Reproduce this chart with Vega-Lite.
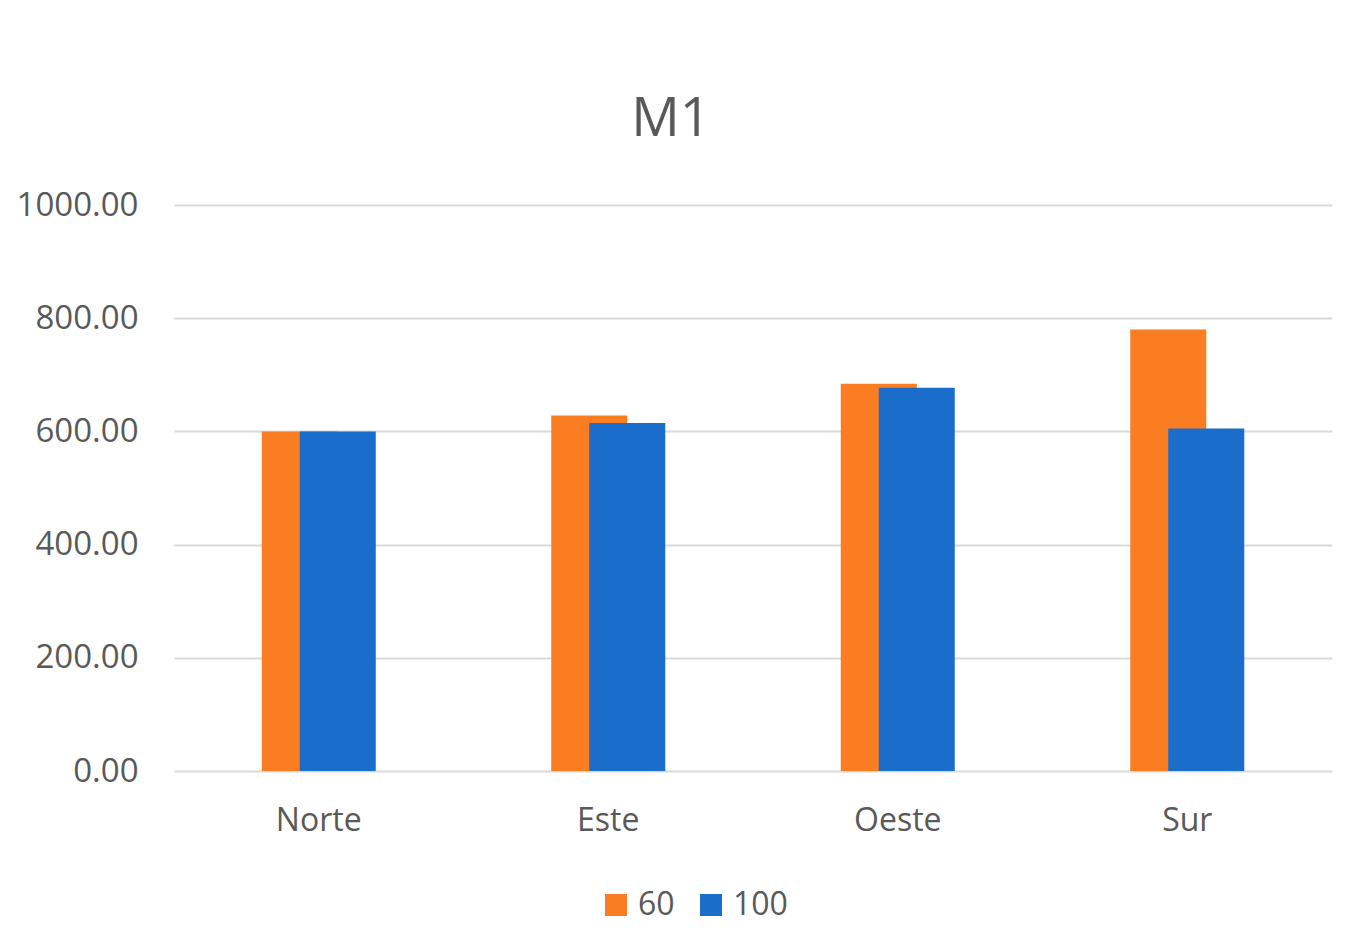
{
  "$schema": "https://vega.github.io/schema/vega-lite/v6.json",
  "autosize": "none",
  "width": 1158,
  "height": 566,
  "padding": {"left": 174, "top": 205, "right": 35, "bottom": 174},
  "background": "white",
  "title": {
    "text": "M1",
    "font": "Open Sans",
    "fontSize": 54,
    "fontWeight": "normal",
    "color": "#595959",
    "anchor": "middle",
    "frame": "group",
    "offset": 42,
    "dx": -82
  },
  "data": {
    "values": [
      {"region": "Norte", "serie": "60", "value": 600},
      {"region": "Este", "serie": "60", "value": 628},
      {"region": "Oeste", "serie": "60", "value": 684},
      {"region": "Sur", "serie": "60", "value": 780},
      {"region": "Norte", "serie": "100", "value": 600},
      {"region": "Este", "serie": "100", "value": 615},
      {"region": "Oeste", "serie": "100", "value": 677},
      {"region": "Sur", "serie": "100", "value": 605}
    ]
  },
  "encoding": {
    "x": {
      "field": "region",
      "type": "nominal",
      "sort": null,
      "title": null,
      "scale": {"paddingInner": 0, "paddingOuter": 0},
      "axis": {
        "labelAngle": 0,
        "ticks": false,
        "domain": false,
        "grid": false,
        "labelFont": "Open Sans",
        "labelFontSize": 32,
        "labelColor": "#595959",
        "labelPadding": 34
      }
    },
    "y": {
      "field": "value",
      "type": "quantitative",
      "title": null,
      "scale": {"domain": [0, 1000]},
      "axis": {
        "values": [0, 200, 400, 600, 800, 1000],
        "format": ".2f",
        "ticks": false,
        "domain": false,
        "grid": true,
        "gridColor": "#d9d9d9",
        "gridWidth": 2,
        "labelFont": "Open Sans",
        "labelFontSize": 33,
        "labelColor": "#595959",
        "labelPadding": 36
      }
    },
    "color": {
      "field": "serie",
      "type": "nominal",
      "scale": {"domain": ["60", "100"], "range": ["#FA7D22", "#1A6DCA"]},
      "legend": {
        "title": null,
        "orient": "none",
        "direction": "horizontal",
        "legendX": 426,
        "legendY": 684,
        "symbolType": "square",
        "symbolSize": 484,
        "symbolStrokeWidth": 0,
        "labelFont": "Open Sans",
        "labelFontSize": 32,
        "labelColor": "#595959",
        "labelOffset": 6,
        "columnPadding": 20
      }
    }
  },
  "layer": [
    {
      "transform": [{"filter": "datum.serie == '60'"}],
      "mark": {"type": "bar", "width": 76, "xOffset": -19}
    },
    {
      "transform": [{"filter": "datum.serie == '100'"}],
      "mark": {"type": "bar", "width": 76, "xOffset": 19}
    }
  ],
  "config": {"view": {"stroke": null}}
}
